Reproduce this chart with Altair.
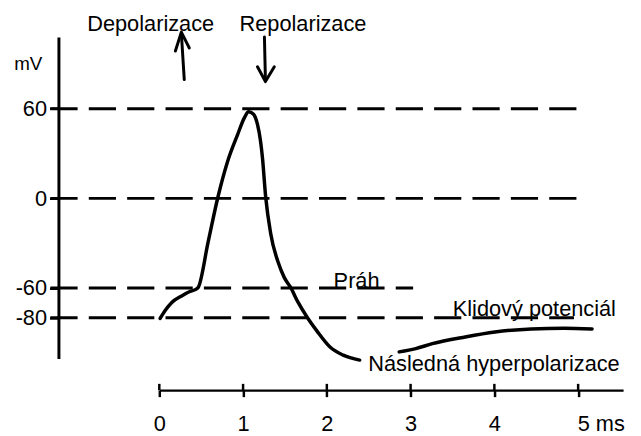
import altair as alt
import pandas as pd

# ---- data (time in ms, membrane potential in mV) ----
seg1_t = [0.01, 0.074, 0.149, 0.267, 0.358, 0.429, 0.464, 0.582, 0.700, 0.818, 0.936, 1.015, 1.066,
          1.125, 1.172, 1.208, 1.231, 1.270, 1.329, 1.42, 1.491, 1.566, 1.656, 1.763, 1.881, 2.038, 2.196, 2.392]
seg1_v = [-80.4, -74.8, -69.7, -65.3, -62.5, -61.1, -59.7, -29.5, 0.9, 25.2, 42.9, 53.9, 58.0,
          56.4, 49.5, 38.5, 27.4, 0.9, -23.3, -43.0, -52.9, -59.5, -69.5, -79.4, -88.7, -99.5, -105.0, -108.3]
seg2_t = [2.864, 3.061, 3.259, 3.652, 4.006, 4.439, 4.832, 5.166]
seg2_v = [-102.8, -100.6, -97.3, -92.8, -89.5, -87.4, -86.9, -87.4]

level_v = [60, 0, -60, -80]
level_start = [-1.3, -1.3, -1.3, -1.3]
level_end = [5.02, 4.99, 3.03, 4.95]

y_ticks = [60, 0, -60, -80]
x_ticks = [0, 1, 2, 3, 4, 5]

arrow_grp = ["up_shaft", "up_shaft", "up_head", "up_head", "up_head",
             "down_shaft", "down_shaft", "down_head", "down_head", "down_head"]
arrow_t = [0.298, 0.263, 0.192, 0.263, 0.358, 1.255, 1.267, 1.172, 1.267, 1.373]
arrow_v = [79.5, 110.7, 98.7, 111.3, 100.7, 108.0, 78.9, 88.1, 78.2, 88.1]

center_text = ["Depolarizace", "Repolarizace"]
center_t = [-0.103, 1.715]
center_v = [112.0, 112.0]

left_text = ["Práh", "Klidový potenciál", "Následná hyperpolarizace"]
left_t = [2.081, 3.503, 2.494]
left_v = [-60.2, -78.7, -115.8]

uptick_v = [-124.2] * 6
uptick_v2 = [-128.5] * 6

# ---- tables ----
curve_df = pd.DataFrame({
    "t": seg1_t + seg2_t,
    "v": seg1_v + seg2_v,
    "seg": ["a"] * len(seg1_t) + ["b"] * len(seg2_t),
})
level_df = pd.DataFrame({"t": level_start, "t2": level_end, "v": level_v})
arrow_df = pd.DataFrame({"t": arrow_t, "v": arrow_v, "grp": arrow_grp, "ord": list(range(len(arrow_t)))})
center_df = pd.DataFrame({"t": center_t, "v": center_v, "text": center_text})
left_df = pd.DataFrame({"t": left_t, "v": left_v, "text": left_text})
uptick_df = pd.DataFrame({"t": x_ticks, "v": uptick_v, "v2": uptick_v2})

FONT = "Liberation Sans"
FS = 22

xscale = alt.Scale(domain=[0, 5.537], nice=False, zero=False)
yscale = alt.Scale(domain=[-107.2, 108.0], nice=False, zero=False)

xaxis = alt.Axis(
    values=x_ticks, offset=32, grid=False, title=None,
    domainColor="black", domainWidth=2.5, tickColor="black", tickWidth=2.5, tickSize=6.6,
    labelFont=FONT, labelFontSize=FS, labelColor="black", labelBaseline="alphabetic",
    labelPadding=34.7, labelFlush=False,
    labelExpr="datum.value == 5 ? '5 ms' : datum.label",
    labelAlign={"condition": {"test": "datum.value == 5", "value": "left"}, "value": "center"},
    labelOffset={"condition": {"test": "datum.value == 5", "value": -1}, "value": 0},
)
yaxis = alt.Axis(
    values=y_ticks, offset=102, grid=False, title="mV", titleAngle=0,
    titleX=-31, titleY=33, titleAlign="center", titleBaseline="alphabetic",
    titleFont=FONT, titleFontSize=19, titleFontWeight="normal", titleColor="black",
    domainColor="black", domainWidth=3, tickColor="black", tickWidth=2.5, tickSize=9,
    labelFont=FONT, labelFontSize=FS, labelColor="black", labelPadding=3, labelFlush=False,
    labelExpr="'' + datum.value",
)

X = alt.X("t:Q", scale=xscale, axis=xaxis)
Y = alt.Y("v:Q", scale=yscale, axis=yaxis)

levels = alt.Chart(level_df).mark_rule(
    color="black", strokeWidth=3, strokeDash=[27.5, 11.3]
).encode(x=X, x2="t2:Q", y=Y)

curve = alt.Chart(curve_df).mark_line(
    color="black", strokeWidth=3.5, interpolate="monotone", strokeCap="round"
).encode(x=X, y=Y, detail="seg:N")

arrows = alt.Chart(arrow_df).mark_line(
    color="black", strokeWidth=3, strokeCap="round", strokeJoin="round"
).encode(x=X, y=Y, detail="grp:N", order="ord:Q")

upticks = alt.Chart(uptick_df).mark_rule(color="black", strokeWidth=2.5).encode(x=X, y=Y, y2="v2:Q")

texts_c = alt.Chart(center_df).mark_text(
    font=FONT, fontSize=FS, align="center", baseline="alphabetic", color="black"
).encode(x=X, y=Y, text="text:N")

texts_l = alt.Chart(left_df).mark_text(
    font=FONT, fontSize=FS, align="left", baseline="alphabetic", color="black"
).encode(x=X, y=Y, text="text:N")

chart = alt.layer(levels, curve, arrows, upticks, texts_c, texts_l).properties(
    width=469, height=325,
    autosize=alt.AutoSizeParams(type="none"),
    padding={"left": 153, "top": 27, "right": 10, "bottom": 76},
    background="white",
).configure_view(stroke=None)

chart.save("out.html", embed_options={"renderer": "svg", "actions": False})
